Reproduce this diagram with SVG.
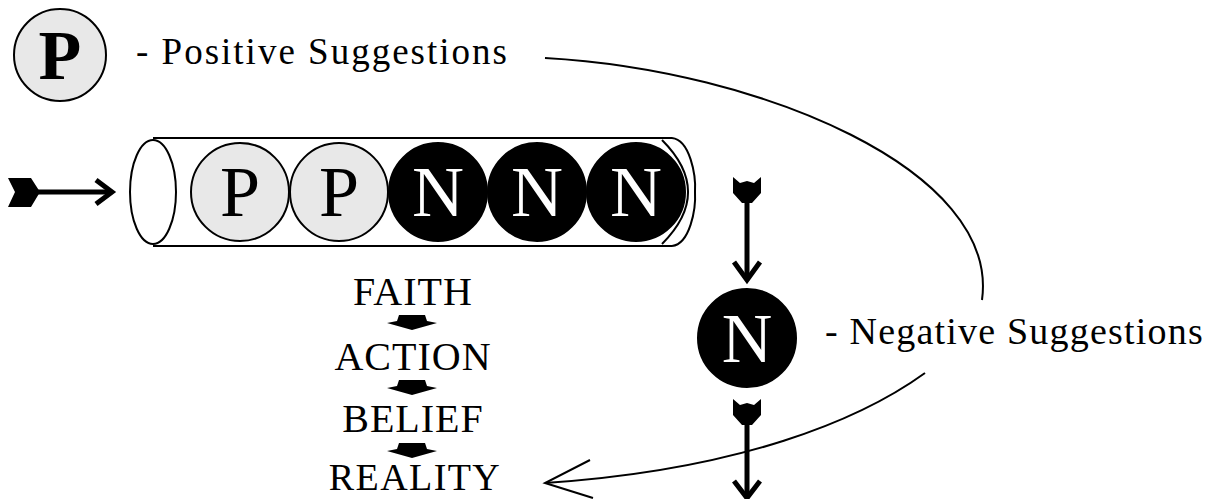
<svg xmlns="http://www.w3.org/2000/svg" width="1228" height="499" viewBox="0 0 1228 499">
<style>
.t{font-family:"Liberation Serif","DejaVu Serif",serif;fill:#000}
.w{fill:#fff}
.ball{stroke:#000;stroke-width:2}
.pf{fill:#e8e8e8}
.nf{fill:#000}
.line{fill:none;stroke:#000;stroke-width:2}
.shaft{fill:none;stroke:#000;stroke-width:5}
</style>
<defs>
<path id="fletch" d="M-14,0 L-7,6 L0,4 L7,6 L14,0 L14,16 L5,26 L-5,26 L-14,16 Z" fill="#000"/>
<path id="tri" d="M-13,0 L13,0 L15,6 L25,8 L0,15 L-25,8 L-15,6 Z" fill="#000"/>
</defs>
<rect width="1228" height="499" fill="#fff"/>
<g id="legend-p">
<circle cx="60" cy="55" r="46" class="ball pf"/>
<text x="60" y="79" class="t" font-size="70" font-weight="bold" text-anchor="middle">P</text>
<text x="136" y="64" class="t" font-size="37" letter-spacing="2">- Positive Suggestions</text>
</g>
<g id="tube">
<line x1="153" y1="138" x2="672" y2="138" class="line"/>
<line x1="153" y1="246" x2="672" y2="246" class="line"/>
<ellipse cx="153" cy="192" rx="23" ry="52" fill="#fff" class="line"/>
<path d="M672,138 C690,140 696,175 695,192 C696,209 690,244 672,246" class="line"/>
<path d="M662,140 Q714,192 662,244" class="line"/>
</g>
<g id="balls">
<circle cx="240" cy="192" r="49" class="ball pf"/>
<text x="240" y="216" class="t" font-size="72" text-anchor="middle">P</text>
<circle cx="339" cy="192" r="49" class="ball pf"/>
<text x="339" y="216" class="t" font-size="72" text-anchor="middle">P</text>
<circle cx="438" cy="192" r="49" class="ball nf"/>
<text x="438" y="216" class="t w" font-size="72" text-anchor="middle">N</text>
<circle cx="537" cy="192" r="49" class="ball nf"/>
<text x="537" y="216" class="t w" font-size="72" text-anchor="middle">N</text>
<circle cx="636" cy="192" r="49" class="ball nf"/>
<text x="636" y="216" class="t w" font-size="72" text-anchor="middle">N</text>
</g>
<g id="legend-n">
<circle cx="747" cy="338" r="49" class="ball nf"/>
<text x="747" y="362" class="t w" font-size="70" text-anchor="middle">N</text>
<text x="825" y="344" class="t" font-size="38" letter-spacing="1.2">- Negative Suggestions</text>
</g>
<g id="chain">
<text x="413" y="305" class="t" font-size="40" letter-spacing="1" text-anchor="middle">FAITH</text>
<use href="#tri" x="412" y="315"/>
<text x="413" y="370" class="t" font-size="40" letter-spacing="1" text-anchor="middle">ACTION</text>
<use href="#tri" x="412" y="380"/>
<text x="413" y="432" class="t" font-size="40" letter-spacing="1" text-anchor="middle">BELIEF</text>
<use href="#tri" x="412" y="443"/>
<text x="415" y="490" class="t" font-size="38" letter-spacing="1.4" text-anchor="middle">REALITY</text>
</g>
<g id="connectors">
<path d="M545,58 C760,70 1000,170 982,300" class="line"/>
<path d="M925,373 C860,420 740,470 545,483" class="line"/>
<path d="M590,460 L545,483 L593,498" class="line"/>
<path d="M32,192 L110,192" class="shaft"/>
<path d="M8,178 L31,178 L40,192 L31,207 L8,207 L15,192 Z" fill="#000"/>
<path d="M96,180 L112,192 L96,204" class="shaft"/>
<path d="M747,200 L747,279" class="shaft"/>
<use href="#fletch" x="747" y="177"/>
<path d="M734,262 L747,280 L760,262" class="shaft"/>
<path d="M747,422 L747,497" class="shaft"/>
<use href="#fletch" x="747" y="399"/>
<path d="M734,481 L747,498 L760,481" class="shaft"/>
</g>
</svg>
